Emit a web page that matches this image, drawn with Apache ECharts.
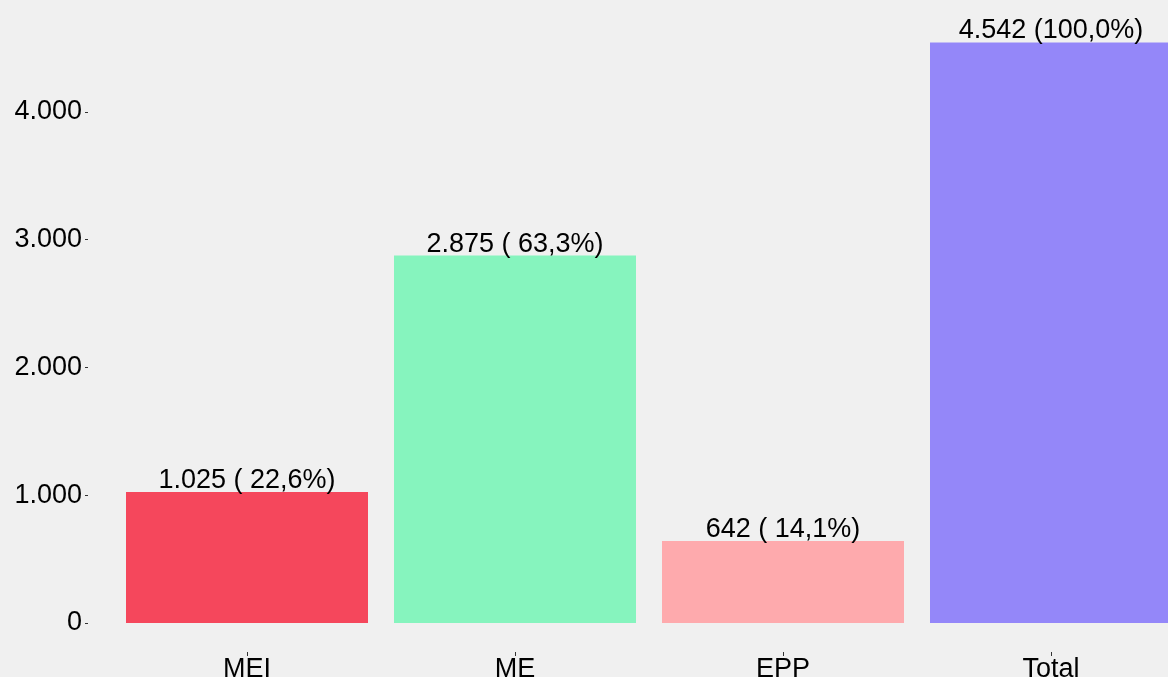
<!DOCTYPE html>
<html>
<head>
<meta charset="utf-8">
<script src="https://cdn.jsdelivr.net/npm/echarts@6/dist/echarts.min.js"></script>
<style>
  html,body{margin:0;padding:0;background:#f0f0f0;}
  #chart{width:1168px;height:677px;}
</style>
</head>
<body>
<div id="chart"></div>
<script>
// data
var categories = ['MEI', 'ME', 'EPP', 'Total'];
var values = [1025, 2875, 642, 4542];
var percents = [22.6, 63.3, 14.1, 100.0];
var colors = ['#f5475c', '#86f4be', '#feaaad', '#9487f9'];
var yTicks = [0, 1000, 2000, 3000, 4000];

function fmtNum(v){
  // 1025 -> 1.025
  return String(v).replace(/\B(?=(\d{3})+(?!\d))/g, '.');
}
function fmtPct(p){
  var s = p.toFixed(1).replace('.', ',');
  while(s.length < 5) s = ' ' + s;
  return s;
}

var chart = echarts.init(document.getElementById('chart'));
var fontFam = 'Liberation Sans, Arial, sans-serif';

chart.setOption({
  backgroundColor: '#f0f0f0',
  animation: false,
  // panel runs past the canvas edges like the original plot
  grid: {left: 113, right: -17, top: -16, bottom: 25, outerBoundsMode: 'none', containLabel: false},
  xAxis: {
    type: 'category',
    data: categories,
    axisLine: {show: false, onZero: false},
    axisTick: {show: true, alignWithLabel: true, length: 4, lineStyle: {color: '#333'}},
    axisLabel: {color: '#000', fontSize: 27, fontFamily: fontFam, margin: 4}
  },
  yAxis: {
    type: 'value',
    min: -227,
    max: 5000,
    offset: 25,
    splitLine: {show: false},
    axisLine: {show: false},
    axisTick: {show: true, length: 3, lineStyle: {color: '#333'}, customValues: yTicks},
    axisLabel: {
      color: '#000', fontSize: 27, fontFamily: fontFam, margin: 6,
      customValues: yTicks,
      formatter: function(v){ return fmtNum(v); }
    }
  },
  series: [{
    type: 'bar',
    barCategoryGap: 26,
    data: values.map(function(v, i){
      return {value: v, itemStyle: {color: colors[i]}};
    }),
    label: {
      show: true,
      position: 'top',
      distance: -2,
      color: '#000',
      fontSize: 27,
      fontFamily: fontFam,
      formatter: function(p){
        return fmtNum(values[p.dataIndex]) + ' (' + fmtPct(percents[p.dataIndex]) + '%)';
      }
    }
  }]
});
</script>
</body>
</html>
